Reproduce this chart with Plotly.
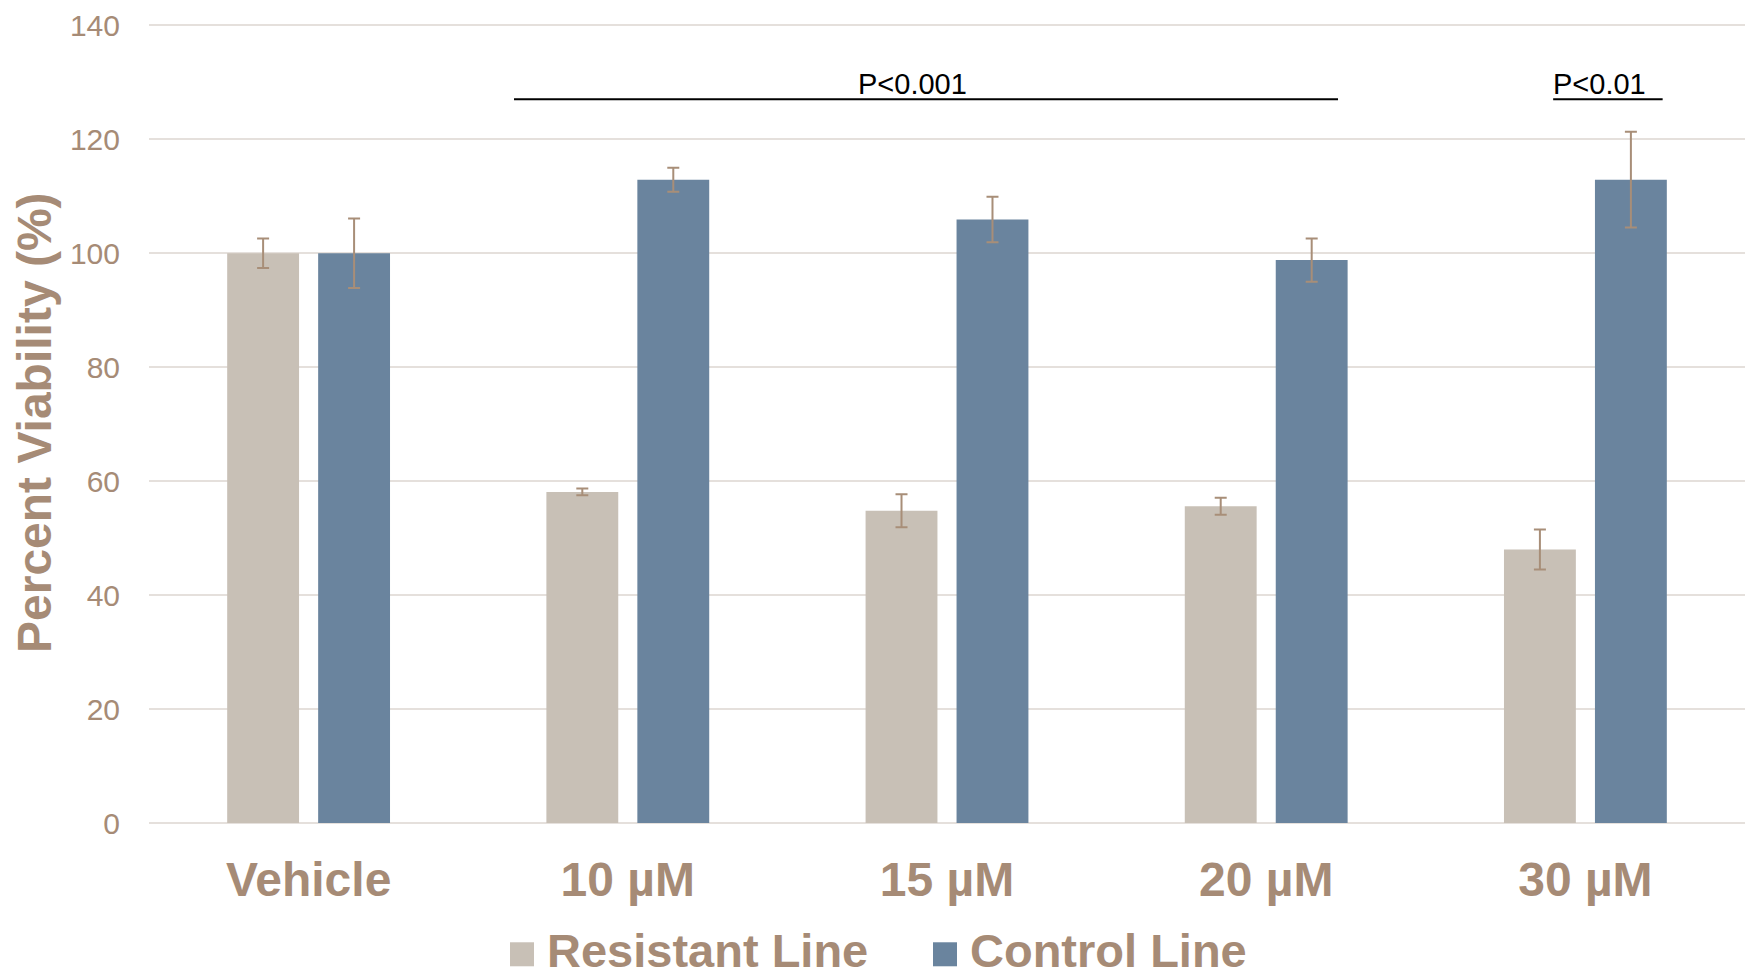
import plotly.graph_objects as go

categories = ["Vehicle", "10 µM", "15 µM", "20 µM", "30 µM"]
series_names = ["Resistant Line", "Control Line"]
resistant = [100, 58.1, 54.8, 55.6, 48.0]
resistant_err = [2.6, 0.6, 2.9, 1.5, 3.5]
control = [100, 112.9, 105.9, 98.8, 112.9]
control_err = [6.1, 2.1, 4.0, 3.8, 8.4]
y_ticks = [0, 20, 40, 60, 80, 100, 120, 140]

TAN = "#A68B76"
ERR = "#A88E78"
C_RES = "#C8C0B6"
C_CTL = "#6A849E"
FONT = "Liberation Sans, Arial, sans-serif"

fig = go.Figure()
for name, vals, errs, col in [(series_names[0], resistant, resistant_err, C_RES),
                              (series_names[1], control, control_err, C_CTL)]:
    fig.add_trace(go.Bar(
        name=name, x=categories, y=vals, marker=dict(color=col, line=dict(width=0)),
        error_y=dict(type="data", array=errs, visible=True, color=ERR, thickness=2, width=6),
        showlegend=False,
    ))

# significance brackets
fig.add_shape(type="line", xref="x", yref="y", x0=0.6435, x1=3.225, y0=127.0, y1=127.0,
              line=dict(color="black", width=2))
fig.add_shape(type="line", xref="x", yref="y", x0=3.899, x1=4.242, y0=127.0, y1=127.0,
              line=dict(color="black", width=2))
fig.add_annotation(x=1.893, y=129.7, xref="x", yref="y", text="P<0.001", showarrow=False,
                   font=dict(family=FONT, size=29, color="black"), xanchor="center", yanchor="middle")
fig.add_annotation(x=3.899, y=129.7, xref="x", yref="y", text="P<0.01", showarrow=False,
                   font=dict(family=FONT, size=29, color="black"), xanchor="left", yanchor="middle",
                   xshift=-2)

# y-axis title
fig.add_annotation(x=(34 - 149) / 1596, y=0.5, xref="paper", yref="paper",
                   text="<b>Percent Viability (%)</b>", textangle=-90, showarrow=False,
                   font=dict(family=FONT, size=48, color=TAN), xanchor="center", yanchor="middle")

# manual legend
def px_x(p):
    return (p - 149) / 1596

def px_y(p):
    return (822.8 - p) / 799.5

legend_items = [(series_names[0], C_RES, 510, 546), (series_names[1], C_CTL, 933, 969)]
for name, col, sx, tx in legend_items:
    fig.add_shape(type="rect", xref="paper", yref="paper", x0=px_x(sx), x1=px_x(sx + 24),
                  y0=px_y(966), y1=px_y(942), fillcolor=col, line=dict(width=0))
    fig.add_annotation(x=px_x(tx), y=px_y(950), xref="paper", yref="paper",
                       text=f"<b>{name}</b>", showarrow=False, xanchor="left", yanchor="middle",
                       font=dict(family=FONT, size=47, color=TAN), borderpad=0)

fig.update_layout(
    width=1754, height=978,
    margin=dict(l=149, r=9, t=21, b=155),
    plot_bgcolor="white", paper_bgcolor="white",
    barmode="group", bargap=0.43, bargroupgap=0.21,
    font=dict(family=FONT, color=TAN),
    xaxis=dict(
        tickfont=dict(family=FONT, size=48, color=TAN, weight="bold"),
        showgrid=False, showline=False, ticks="", ticklabelstandoff=24,
    ),
    yaxis=dict(
        range=[0, 140.4], tickvals=y_ticks, ticktext=[str(v) for v in y_ticks],
        tickfont=dict(family=FONT, size=30, color=TAN),
        showgrid=True, gridcolor="#E5E0DC", gridwidth=1.5,
        zeroline=True, zerolinecolor="#E5E0DC", zerolinewidth=2,
        showline=False, ticks="", ticklabelstandoff=28,
    ),
)

fig.write_html("out.html", config={"displayModeBar": False},
               post_script="document.body.style.margin='0';document.body.style.overflow='hidden';")
